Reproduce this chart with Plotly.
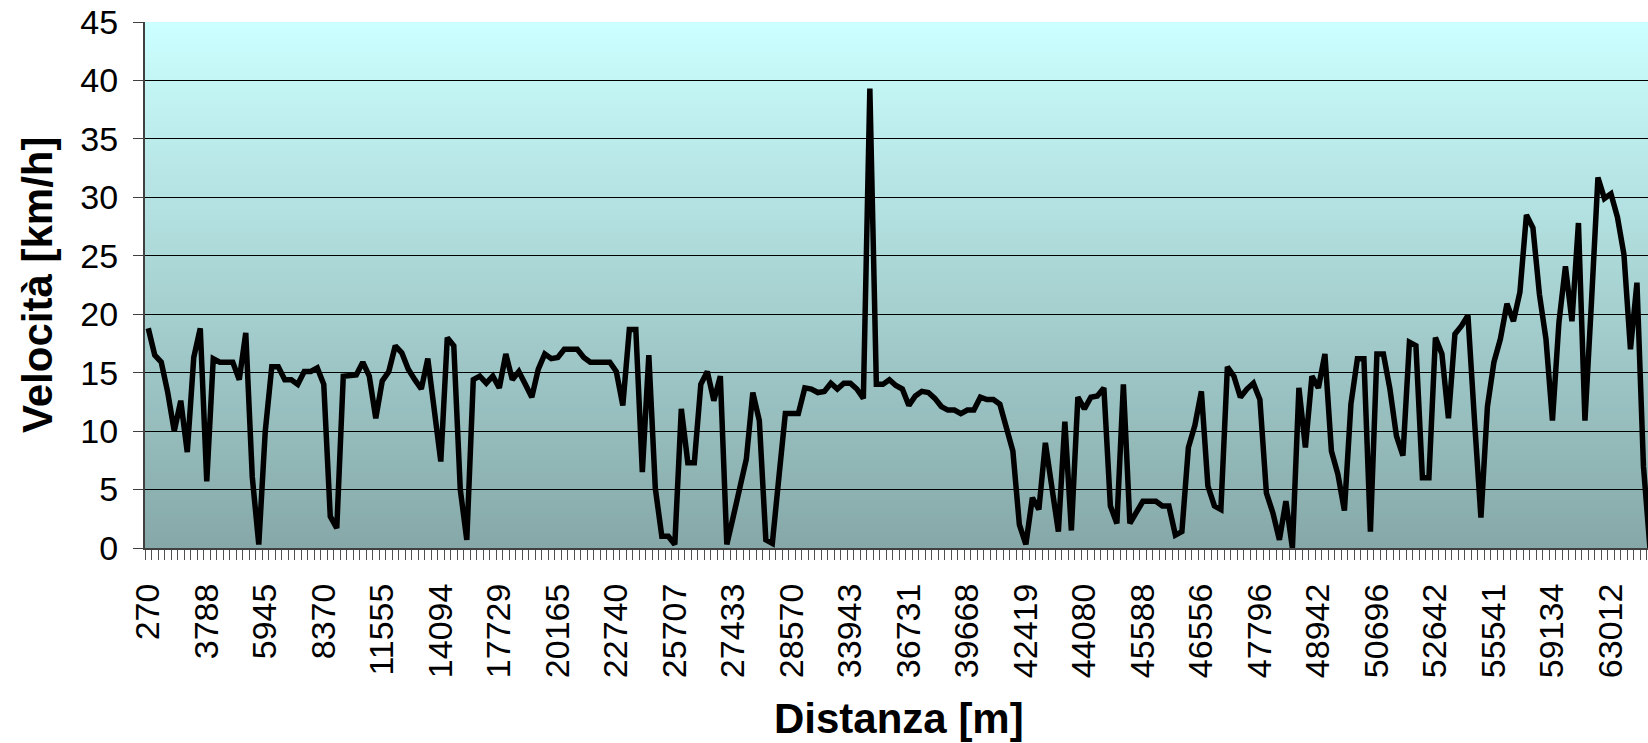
import plotly.graph_objects as go

velocita = [
    18.8, 16.5, 15.9, 13.3, 10.0, 12.6, 8.2, 16.3, 18.8, 5.7,
    16.2, 15.9, 15.9, 15.9, 14.4, 18.4, 6.1, 0.3, 10.0, 15.5,
    15.5, 14.4, 14.4, 14.0, 15.1, 15.1, 15.4, 14.0, 2.7, 1.7,
    14.7, 14.7, 14.8, 15.9, 14.7, 11.1, 14.3, 15.1, 17.3, 16.7,
    15.3, 14.4, 13.6, 16.2, 11.6, 7.4, 18.0, 17.3, 5.0, 0.7,
    14.4, 14.7, 14.1, 14.7, 13.7, 16.6, 14.4, 15.1, 14.0, 12.9,
    15.3, 16.6, 16.2, 16.3, 17.0, 17.0, 17.0, 16.3, 15.9, 15.9,
    15.9, 15.9, 15.1, 12.2, 18.7, 18.7, 6.5, 16.5, 5.1, 1.0,
    1.0, 0.3, 11.9, 7.3, 7.3, 14.0, 15.1, 12.6, 14.7, 0.3,
    2.7, 5.3, 7.6, 13.3, 10.9, 0.7, 0.4, 6.0, 11.5, 11.5,
    11.5, 13.7, 13.6, 13.3, 13.4, 14.1, 13.6, 14.1, 14.1, 13.6,
    12.8, 39.3, 14.0, 14.0, 14.4, 13.9, 13.6, 12.2, 13.0, 13.4,
    13.3, 12.8, 12.1, 11.8, 11.8, 11.5, 11.8, 11.8, 12.9, 12.7,
    12.7, 12.3, 10.4, 8.3, 2.0, 0.3, 4.3, 3.3, 9.0, 5.1,
    1.4, 10.8, 1.5, 12.9, 11.9, 12.9, 13.0, 13.7, 3.6, 2.1,
    14.0, 2.1, 3.1, 4.0, 4.0, 4.0, 3.6, 3.6, 1.1, 1.4,
    8.6, 10.5, 13.4, 5.3, 3.6, 3.3, 15.5, 14.7, 12.9, 13.6,
    14.1, 12.7, 4.7, 3.0, 0.7, 4.0, 0.0, 13.7, 8.6, 14.7,
    13.7, 16.6, 8.3, 6.3, 3.2, 12.3, 16.2, 16.2, 1.4, 16.6,
    16.6, 13.6, 9.6, 7.9, 17.6, 17.3, 6.0, 6.0, 18.0, 16.6,
    11.1, 18.3, 19.0, 19.9, 11.0, 2.6, 12.1, 15.9, 17.9, 20.9,
    19.4, 21.9, 28.5, 27.4, 21.7, 17.9, 10.9, 19.3, 24.1, 19.4,
    27.8, 10.9, 21.0, 31.7, 29.9, 30.3, 28.3, 25.1, 17.0, 22.7,
    7.0, 0.0,
]

# Distance labels shown on the category axis (every 9th sample)
distanza_labels = [
    "270", "3788", "5945", "8370", "11555", "14094", "17729", "20165",
    "22740", "25707", "27433", "28570", "33943", "36731", "39668",
    "42419", "44080", "45588", "46556", "47796", "48942", "50696",
    "52642", "55541", "59134", "63012",
]
label_step = 9

y_ticks = [0, 5, 10, 15, 20, 25, 30, 35, 40, 45]

sample_index = list(range(len(velocita)))
label_positions = [i * label_step for i in range(len(distanza_labels))]

FONT = "Liberation Sans, Arial, sans-serif"

fig = go.Figure()
fig.add_trace(go.Scatter(
    x=sample_index, y=velocita, mode="lines",
    line=dict(color="black", width=5.5), hoverinfo="skip", showlegend=False,
))

# vertical gradient background (light cyan at top -> grey teal at bottom)
top_rgb = (204, 255, 255)
bot_rgb = (134, 168, 168)
n_bands = 90
y_max = 45
shapes = []
for k in range(n_bands):
    y0 = y_max * k / n_bands
    y1 = y_max * (k + 1) / n_bands
    t = (k + 0.5) / n_bands
    c = tuple(round(bot_rgb[j] + (top_rgb[j] - bot_rgb[j]) * t) for j in range(3))
    shapes.append(dict(
        type="rect", xref="paper", yref="y", x0=0, x1=1, y0=y0,
        y1=min(y1 + 0.25, y_max),
        fillcolor="rgb(%d,%d,%d)" % c, line=dict(width=0), layer="below",
    ))

fig.update_layout(
    width=1648, height=743,
    margin=dict(l=145, r=0, t=22, b=195, autoexpand=False),
    paper_bgcolor="white", plot_bgcolor="rgba(0,0,0,0)",
    shapes=shapes,
    font=dict(family=FONT, color="black"),
    xaxis=dict(
        range=[-0.5, 230.7], automargin=False,
        tickmode="array", tickvals=label_positions, ticktext=distanza_labels,
        tickangle=-90, tickfont=dict(size=34, family=FONT, color="black"),
        ticks="outside", ticklen=10, tickcolor="rgba(0,0,0,0)",
        ticklabelstandoff=10,
        minor=dict(tick0=-0.5, dtick=1, ticks="outside", ticklen=10,
                   tickcolor="#505050", tickwidth=1, showgrid=False),
        showgrid=False, zeroline=False,
        showline=True, linecolor="#404040", linewidth=2,
    ),
    yaxis=dict(
        range=[0, 45], tickmode="array", tickvals=y_ticks, automargin=False,
        tickfont=dict(size=34, family=FONT, color="black"),
        ticks="outside", ticklen=10, tickcolor="#404040", tickwidth=1,
        ticklabelstandoff=8,
        showgrid=True, gridcolor="black", gridwidth=1,
        zeroline=False, showline=True, linecolor="#404040", linewidth=2,
    ),
    annotations=[
        dict(text="<b>Velocità [km/h]</b>", xref="paper", yref="paper",
             x=-0.0719, y=0.5, textangle=-90, showarrow=False,
             xanchor="center", yanchor="middle",
             font=dict(size=42, family=FONT, color="black")),
        dict(text="<b>Distanza [m]</b>", xref="paper", yref="paper",
             x=0.5017, y=-0.325, showarrow=False,
             xanchor="center", yanchor="middle",
             font=dict(size=42, family=FONT, color="black")),
    ],
)

fig.write_html(
    "out.html",
    config={"displayModeBar": False, "staticPlot": True},
    post_script="document.body.style.margin='0';document.body.style.overflow='hidden';",
)
